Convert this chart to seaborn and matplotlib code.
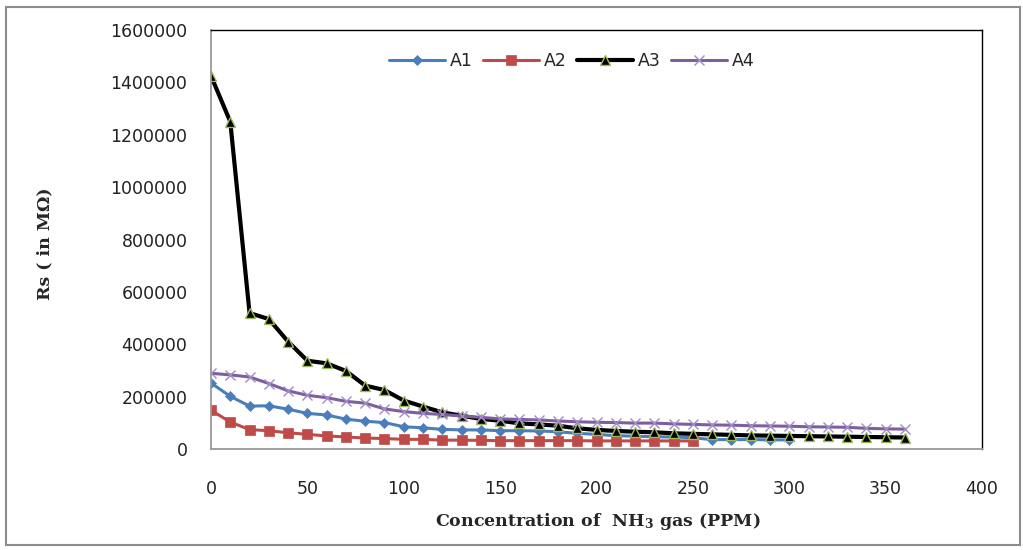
import pandas as pd
import matplotlib.pyplot as plt
import seaborn as sns
from matplotlib.patches import Rectangle

# concentration of NH3 (PPM)
conc = [0, 10, 20, 30, 40, 50, 60, 70, 80, 90, 100, 110, 120, 130, 140, 150, 160, 170, 180,
        190, 200, 210, 220, 230, 240, 250, 260, 270, 280, 290, 300, 310, 320, 330, 340, 350, 360]

# sensor resistance values
a1 = [253000, 202000, 165000, 166000, 153000, 137000, 131000, 115000, 107000, 102000, 86000,
      82000, 76000, 74000, 74000, 71000, 71000, 70000, 67000, 61000, 57000, 52000, 50000, 48000,
      47000, 44000, 37000, 37000, 37000, 36000, 36000]
a2 = [149000, 104000, 75000, 71000, 63000, 57000, 51000, 47000, 43000, 41000, 38000, 38000,
      35000, 35000, 34000, 33000, 33000, 33000, 33000, 33000, 32000, 32000, 32000, 32000, 32000, 32000]
a3 = [1425000, 1250000, 520000, 497000, 411000, 338000, 328000, 299000, 243000, 226000, 186000,
      163000, 141000, 128000, 116000, 109000, 99000, 95000, 90000, 80000, 74000, 70000, 67000,
      65000, 61000, 59000, 57000, 55000, 53000, 52000, 51000, 50000, 49000, 48000, 47000, 46000, 45000]
a4 = [290000, 284000, 276000, 251000, 223000, 206000, 197000, 183000, 176000, 154000, 144000,
      137000, 133000, 127000, 122000, 116000, 114000, 112000, 108000, 105000, 103000, 102000,
      100000, 100000, 97000, 95000, 93000, 92000, 90000, 89000, 88000, 86000, 85000, 84000,
      80000, 78000, 77000]

series = {"A1": a1, "A2": a2, "A3": a3, "A4": a4}

sns.set_style("white")
plt.rcParams["font.family"] = ["DejaVu Sans"]
plt.rcParams["mathtext.default"] = "regular"

fig = plt.figure(figsize=(10.23, 5.5), dpi=100)
ax = fig.add_axes([211 / 1023, 1 - 449.3 / 550, 771 / 1023, 419.3 / 550])

styles = {
    "A1": dict(color="#4a7ebb", marker="D", markersize=5, lw=2.2, mec="#4a7ebb"),
    "A2": dict(color="#be4b48", marker="s", markersize=7.5, lw=2.2, mec="#be4b48"),
    "A3": dict(color="black", marker="^", markersize=7, lw=3.0, mec="#9bbb59", mew=1),
    "A4": dict(color="#7d5fa0", marker="x", markersize=7, lw=2.2, mec="#a08cc8", mew=1),
}

for name, vals in series.items():
    df = pd.DataFrame({"conc": conc[:len(vals)], "rs": vals})
    st = styles[name]
    sns.lineplot(data=df, x="conc", y="rs", ax=ax, label=name, color=st["color"],
                 marker=st["marker"], markersize=st["markersize"], linewidth=st["lw"],
                 markeredgecolor=st["mec"], markeredgewidth=st.get("mew", 0.5))

ax.set_xlim(0, 400)
ax.set_ylim(0, 1600000)
ax.set_xticks(range(0, 401, 50))
ax.set_yticks(range(0, 1600001, 200000))
ax.ticklabel_format(axis="y", style="plain", useOffset=False)
ax.tick_params(axis="x", length=0, pad=22, labelsize=12.5, labelcolor="#222222")
ax.tick_params(axis="y", length=0, pad=17, labelsize=12.5, labelcolor="#222222")

for s in ["top", "right"]:
    ax.spines[s].set_color("black")
    ax.spines[s].set_linewidth(1)
for s in ["left", "bottom"]:
    ax.spines[s].set_color("#999999")
    ax.spines[s].set_linewidth(1.3)

ax.set_xlabel("")
ax.set_ylabel("")
fig.text(598 / 1023, 1 - 521 / 550, "Concentration of  NH$_3$ gas (PPM)", ha="center", va="center",
         family="DejaVu Serif", weight="bold", fontsize=12.5)
fig.text(45 / 1023, 1 - 244 / 550, "Rs ( in M\u03a9)", ha="center", va="center", rotation=90,
         family="DejaVu Serif", weight="bold", fontsize=12.5)

ax.legend(loc="center", bbox_to_anchor=(572 / 1023, 1 - 61 / 550), bbox_transform=fig.transFigure,
          ncol=4, frameon=False, fontsize=12.5, handlelength=3.2, columnspacing=0.6, handletextpad=0.3)

fig.patches.append(Rectangle((6 / 1023, 5 / 550), 1014 / 1023, 538 / 550, transform=fig.transFigure,
                             fill=False, edgecolor="#8c8c8c", lw=1.5))

fig.savefig("out.png", dpi=100)
